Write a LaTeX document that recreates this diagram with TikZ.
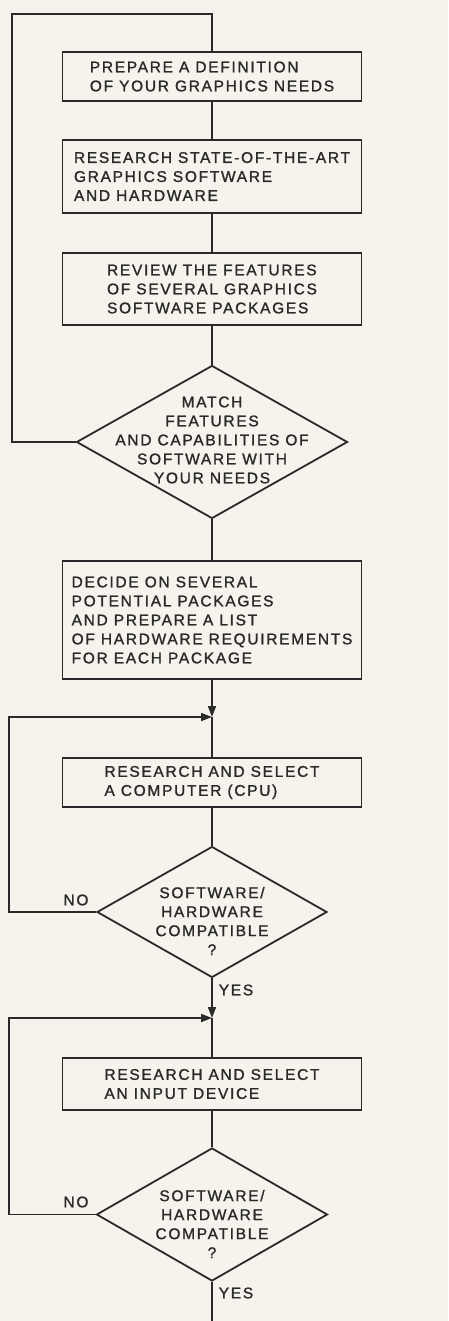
\documentclass[tikz,border=0pt]{standalone}
\usepackage{fontspec}
\setmainfont{Liberation Sans}[LetterSpace=11, FakeBold=1.3]
\usetikzlibrary{shapes.geometric,arrows.meta}
\definecolor{paper}{HTML}{F6F3EC}
\definecolor{ink}{HTML}{2A2A2A}
\begin{document}
\begin{tikzpicture}[x=1pt,y=-1pt,
  every node/.style={font=\fontsize{15.5}{19}\selectfont, text=ink},
  stepbox/.style={draw=ink, line width=1.8pt, rectangle, inner sep=0pt, align=left, minimum width=299pt},
  dia/.style={draw=ink, line width=1.8pt, diamond, inner sep=0pt},
  dtext/.style={align=center, inner sep=0pt},
  lbl/.style={inner sep=0pt},
  conn/.style={draw=ink, line width=1.8pt},
  arr/.style={conn, -{Triangle[length=11pt,width=8pt]}}]
\useasboundingbox (0,0) rectangle (448,1321);
\fill[paper] (0,0) rectangle (448,1321);

\node[stepbox, minimum height=49pt] (b1) at (212,76.5) {PREPARE A DEFINITION\\OF YOUR GRAPHICS NEEDS};
\node[stepbox, minimum height=73pt] (b2) at (212,176.5) {RESEARCH STATE-OF-THE-ART\\GRAPHICS SOFTWARE\\AND HARDWARE};
\node[stepbox, minimum height=72pt] (b3) at (212,289) {REVIEW THE FEATURES\\OF SEVERAL GRAPHICS\\SOFTWARE PACKAGES};
\node[dia, minimum width=271pt, minimum height=153pt] (d1) at (212,442) {};
\node[dtext] (t1) at (212,440) {MATCH\\FEATURES\\AND CAPABILITIES OF\\SOFTWARE WITH\\YOUR NEEDS};
\node[stepbox, minimum height=118pt] (b4) at (212,620) {DECIDE ON SEVERAL\\POTENTIAL PACKAGES\\AND PREPARE A LIST\\OF HARDWARE REQUIREMENTS\\FOR EACH PACKAGE};
\coordinate (j1) at (212,717);
\node[stepbox, minimum height=49pt] (b5) at (212,782.5) {RESEARCH AND SELECT\\A COMPUTER (CPU)};
\node[dia, minimum width=230pt, minimum height=131pt] (d2) at (212,912) {};
\node[dtext] (t2) at (212,921) {SOFTWARE/\\HARDWARE\\COMPATIBLE\\?};
\coordinate (j2) at (212,1018);
\node[stepbox, minimum height=52pt] (b6) at (212,1084) {RESEARCH AND SELECT\\AN INPUT DEVICE};
\node[dia, minimum width=231pt, minimum height=133pt] (d3) at (212,1214.5) {};
\node[dtext] (t3) at (212,1224) {SOFTWARE/\\HARDWARE\\COMPATIBLE\\?};
\coordinate (bot) at (212,1323);

\node[lbl] (no1) at (76,900) {NO};
\node[lbl] (yes1) at (236,990) {YES};
\node[lbl] (no2) at (76,1202) {NO};
\node[lbl] (yes2) at (236,1293) {YES};

\coordinate (k1) at (12,14);
\coordinate (k2) at (9,717);
\coordinate (k3) at (9,1018);

\draw[conn] (b1.south) -- (b2.north);
\draw[conn] (b2.south) -- (b3.north);
\draw[conn] (b3.south) -- (d1.north);
\draw[conn] (d1.south) -- (b4.north);
\draw[arr] (b4.south) -- (j1);
\draw[conn] (j1) -- (b5.north);
\draw[conn] (b5.south) -- (d2.north);
\draw[arr] (d2.south) -- (j2);
\draw[conn] (j2) -- (b6.north);
\draw[conn] (b6.south) -- (d3.north);
\draw[conn] (d3.south) -- (bot);

\draw[conn] (d1.west) -| (k1) -| (b1.north);
\draw[arr] (d2.west) -| (k2) -- (j1);
\draw[arr] (d3.west) -| (k3) -- (j2);
\end{tikzpicture}
\end{document}
